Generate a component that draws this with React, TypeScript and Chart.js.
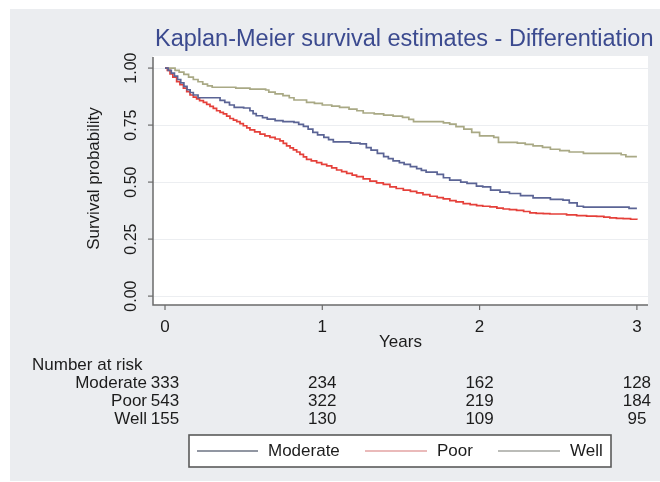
import React, { useEffect, useRef } from "react";
import { Chart, registerables } from "chart.js";

Chart.register(...registerables);

// ---- Data ----
const titleText = "Kaplan-Meier survival estimates - Differentiation";
const yAxisTitle = "Survival probability";
const xAxisTitle = "Years";
const seriesNames = ["Moderate", "Poor", "Well"];
const xTicks = [0, 1, 2, 3];
const yTicks = [0, 0.25, 0.5, 0.75, 1];
const yTickLabels = ["0.00", "0.25", "0.50", "0.75", "1.00"];

// Kaplan-Meier step points [years, survival]
const moderate: [number, number][] = [
  [0, 1], [0.02, 0.99], [0.04, 0.978], [0.06, 0.965], [0.08, 0.95], [0.1, 0.935], [0.12, 0.92],
  [0.14, 0.905], [0.16, 0.893], [0.18, 0.882], [0.21, 0.87], [0.35, 0.858], [0.38, 0.85],
  [0.41, 0.838], [0.44, 0.828], [0.5, 0.825], [0.54, 0.813], [0.56, 0.8], [0.58, 0.791],
  [0.62, 0.783], [0.65, 0.776], [0.7, 0.77], [0.75, 0.765], [0.82, 0.762], [0.85, 0.753],
  [0.88, 0.744], [0.91, 0.732], [0.94, 0.718], [0.97, 0.707], [1.01, 0.696], [1.04, 0.686],
  [1.07, 0.676], [1.18, 0.671], [1.24, 0.668], [1.28, 0.651], [1.31, 0.64], [1.35, 0.626],
  [1.39, 0.612], [1.42, 0.603], [1.45, 0.593], [1.49, 0.585], [1.52, 0.578], [1.56, 0.568],
  [1.6, 0.559], [1.63, 0.551], [1.66, 0.544], [1.73, 0.534], [1.77, 0.519], [1.81, 0.509],
  [1.88, 0.5], [1.92, 0.494], [1.98, 0.482], [2.02, 0.479], [2.07, 0.465], [2.13, 0.456],
  [2.19, 0.45], [2.26, 0.441], [2.34, 0.431], [2.45, 0.424], [2.53, 0.421], [2.57, 0.409],
  [2.62, 0.394], [2.66, 0.39], [2.95, 0.385], [3.0, 0.385],
];

const poor: [number, number][] = [
  [0, 1], [0.015, 0.99], [0.032, 0.975], [0.05, 0.96], [0.074, 0.941], [0.095, 0.927],
  [0.117, 0.912], [0.138, 0.897], [0.159, 0.882], [0.18, 0.873], [0.201, 0.865], [0.22, 0.857],
  [0.244, 0.85], [0.265, 0.841], [0.286, 0.832], [0.307, 0.823], [0.328, 0.813], [0.35, 0.806],
  [0.371, 0.799], [0.392, 0.789], [0.413, 0.779], [0.435, 0.772], [0.456, 0.765], [0.477, 0.756],
  [0.498, 0.747], [0.52, 0.738], [0.54, 0.729], [0.57, 0.72], [0.604, 0.71], [0.635, 0.703],
  [0.667, 0.696], [0.7, 0.689], [0.731, 0.681], [0.752, 0.67], [0.773, 0.659], [0.795, 0.65],
  [0.816, 0.641], [0.837, 0.632], [0.858, 0.622], [0.88, 0.611], [0.9, 0.6], [0.93, 0.593],
  [0.964, 0.585], [0.996, 0.578], [1.028, 0.571], [1.06, 0.562], [1.091, 0.553], [1.123, 0.546],
  [1.155, 0.538], [1.19, 0.531], [1.218, 0.524], [1.26, 0.514], [1.303, 0.504], [1.345, 0.497],
  [1.388, 0.49], [1.43, 0.479], [1.47, 0.472], [1.515, 0.465], [1.56, 0.459], [1.6, 0.453],
  [1.64, 0.445], [1.684, 0.438], [1.73, 0.432], [1.769, 0.426], [1.811, 0.419], [1.85, 0.413],
  [1.896, 0.406], [1.94, 0.401], [1.981, 0.397], [2.02, 0.394], [2.066, 0.391], [2.11, 0.386],
  [2.15, 0.382], [2.19, 0.379], [2.235, 0.376], [2.28, 0.371], [2.32, 0.365], [2.36, 0.363],
  [2.405, 0.362], [2.447, 0.36], [2.553, 0.356], [2.617, 0.353], [2.68, 0.351], [2.744, 0.35],
  [2.79, 0.346], [2.828, 0.343], [2.87, 0.341], [2.913, 0.34], [2.96, 0.337], [3.0, 0.335],
];

const well: [number, number][] = [
  [0, 1], [0.064, 0.99], [0.09, 0.982], [0.12, 0.972], [0.15, 0.96], [0.18, 0.95], [0.21, 0.94],
  [0.24, 0.93], [0.27, 0.922], [0.3, 0.916], [0.45, 0.912], [0.54, 0.908], [0.64, 0.904],
  [0.66, 0.895], [0.7, 0.887], [0.75, 0.879], [0.79, 0.87], [0.82, 0.86], [0.9, 0.85],
  [0.95, 0.845], [1.0, 0.838], [1.06, 0.833], [1.11, 0.828], [1.17, 0.82], [1.22, 0.813],
  [1.26, 0.803], [1.33, 0.799], [1.39, 0.794], [1.45, 0.789], [1.51, 0.784], [1.55, 0.775],
  [1.58, 0.765], [1.77, 0.76], [1.81, 0.754], [1.85, 0.743], [1.9, 0.732], [1.95, 0.718],
  [2.0, 0.703], [2.09, 0.696], [2.12, 0.674], [2.24, 0.671], [2.29, 0.665], [2.34, 0.659],
  [2.4, 0.652], [2.45, 0.644], [2.51, 0.638], [2.57, 0.632], [2.66, 0.626], [2.9, 0.62],
  [2.93, 0.612], [3.0, 0.612],
];

// Number at risk table
const riskLabel = "Number at risk";
const riskModerate = [333, 234, 162, 128];
const riskPoor = [543, 322, 219, 184];
const riskWell = [155, 130, 109, 95];

// ---- Styles ----
const COLORS = ["#5b6495", "#e5403a", "#a9a985"];
const LEGEND_COLORS = ["#6d7383", "#e3a3a3", "#a4a6a0"];
const PANEL_BG = "#ebedf0";
const TEXT = "#1c1c1c";
const AXIS = "#6b6b6b";
const FONT = '"Liberation Sans", Arial, sans-serif';

const drawPlugin = {
  id: "stataDecor",
  beforeDraw(chart: any) {
    const { ctx, chartArea: a } = chart;
    ctx.save();
    ctx.fillStyle = "#ffffff";
    ctx.fillRect(0, 0, chart.width, chart.height);
    ctx.fillStyle = PANEL_BG;
    ctx.fillRect(10, 9, chart.width - 10, chart.height - 10);
    ctx.fillStyle = "#ffffff";
    ctx.fillRect(a.left, a.top, a.right - a.left, a.bottom - a.top);
    ctx.restore();
  },
  afterDraw(chart: any) {
    const { ctx, chartArea: a } = chart;
    const xs = chart.scales.x;
    const ys = chart.scales.y;
    ctx.save();

    // axis lines
    ctx.strokeStyle = AXIS;
    ctx.lineWidth = 1.5;
    ctx.beginPath();
    ctx.moveTo(a.left, a.top + 1);
    ctx.lineTo(a.left, a.bottom);
    ctx.lineTo(a.right, a.bottom);
    ctx.stroke();

    // y ticks + labels
    ctx.lineWidth = 1.2;
    ctx.fillStyle = TEXT;
    ctx.font = `16px ${FONT}`;
    yTicks.forEach((v, i) => {
      const y = ys.getPixelForValue(v);
      ctx.beginPath();
      ctx.moveTo(a.left - 5, y);
      ctx.lineTo(a.left, y);
      ctx.stroke();
      ctx.save();
      ctx.translate(a.left - 21, y);
      ctx.rotate(-Math.PI / 2);
      ctx.textAlign = "center";
      ctx.textBaseline = "middle";
      ctx.fillText(yTickLabels[i], 0, 0);
      ctx.restore();
    });

    // y title
    ctx.font = `17px ${FONT}`;
    ctx.save();
    ctx.translate(94, (a.top + a.bottom) / 2 - 2);
    ctx.rotate(-Math.PI / 2);
    ctx.textAlign = "center";
    ctx.textBaseline = "middle";
    ctx.fillText(yAxisTitle, 0, 0);
    ctx.restore();

    // x ticks + labels
    ctx.textAlign = "center";
    ctx.textBaseline = "middle";
    xTicks.forEach((v) => {
      const x = xs.getPixelForValue(v);
      ctx.beginPath();
      ctx.moveTo(x, a.bottom);
      ctx.lineTo(x, a.bottom + 5);
      ctx.stroke();
      ctx.fillText(String(v), x, a.bottom + 22);
    });
    ctx.fillText(xAxisTitle, (a.left + a.right) / 2, a.bottom + 37);

    // number at risk table
    ctx.textAlign = "left";
    ctx.fillText(riskLabel, 32, 365);
    const rows = [riskModerate, riskPoor, riskWell];
    rows.forEach((row, r) => {
      const y = 383 + r * 18;
      ctx.textAlign = "right";
      ctx.fillText(seriesNames[r], 147, y);
      ctx.textAlign = "center";
      row.forEach((n, i) => {
        ctx.fillText(String(n), xs.getPixelForValue(xTicks[i]), y);
      });
    });

    // legend
    const lx = 189, ly = 435, lw = 422, lh = 32;
    ctx.fillStyle = "#ffffff";
    ctx.fillRect(lx, ly, lw, lh);
    ctx.strokeStyle = "#5a5a5a";
    ctx.lineWidth = 1.6;
    ctx.strokeRect(lx, ly, lw, lh);
    const items = [
      { x0: 197, x1: 258, tx: 268 },
      { x0: 365, x1: 427, tx: 437 },
      { x0: 498, x1: 560, tx: 570 },
    ];
    items.forEach((it, i) => {
      ctx.strokeStyle = LEGEND_COLORS[i];
      ctx.lineWidth = 1.6;
      ctx.beginPath();
      ctx.moveTo(it.x0, ly + lh / 2);
      ctx.lineTo(it.x1, ly + lh / 2);
      ctx.stroke();
      ctx.fillStyle = TEXT;
      ctx.textAlign = "left";
      ctx.textBaseline = "middle";
      ctx.fillText(seriesNames[i], it.tx, ly + lh / 2);
    });

    // title
    ctx.fillStyle = "#3b4a8f";
    ctx.font = `23.5px ${FONT}`;
    ctx.textAlign = "left";
    ctx.textBaseline = "middle";
    ctx.fillText(titleText, 155, 40);

    ctx.restore();
  },
};

export default function App() {
  const ref = useRef<HTMLCanvasElement | null>(null);

  useEffect(() => {
    if (!ref.current) return;
    const toPts = (arr: [number, number][]) => arr.map(([x, y]) => ({ x, y }));
    const series = [moderate, poor, well];
    const chart = new Chart(ref.current, {
      type: "line",
      data: {
        datasets: series.map((s, i) => ({
          label: seriesNames[i],
          data: toPts(s),
          borderColor: COLORS[i],
          backgroundColor: COLORS[i],
          borderWidth: 1.7,
          pointRadius: 0,
          stepped: "before" as const,
          fill: false,
        })),
      },
      options: {
        responsive: false,
        animation: false,
        devicePixelRatio: 1,
        layout: { padding: { left: 153, top: 56, right: 12, bottom: 177 } },
        plugins: {
          legend: { display: false },
          title: { display: false },
          tooltip: { enabled: false },
        },
        scales: {
          x: {
            type: "linear",
            min: -0.0763,
            max: 3.0706,
            ticks: { display: false },
            grid: { display: false, drawTicks: false },
            border: { display: false },
          },
          y: {
            type: "linear",
            min: -0.039,
            max: 1.053,
            afterBuildTicks: (scale: any) => {
              scale.ticks = yTicks.map((v) => ({ value: v }));
            },
            ticks: { display: false },
            grid: { color: "#eceef1", lineWidth: 1, drawTicks: false },
            border: { display: false },
          },
        },
      },
      plugins: [drawPlugin],
    });
    return () => chart.destroy();
  }, []);

  return (
    <div style={{ position: "fixed", left: 0, top: 0, width: 660, height: 482 }}>
      <canvas ref={ref} width={660} height={482} style={{ display: "block" }} />
    </div>
  );
}
